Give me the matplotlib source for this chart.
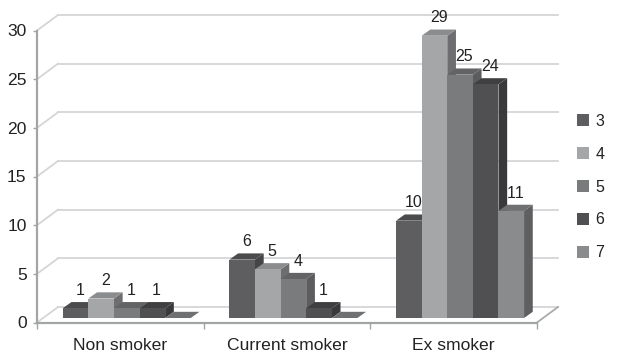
import matplotlib
matplotlib.use("Agg")
import matplotlib.pyplot as plt
from matplotlib.patches import Patch, Polygon

plt.rcParams["font.family"] = ["Liberation Sans", "DejaVu Sans"]
plt.rcParams["text.kerning_factor"] = 6

categories = ["Non smoker", "Current smoker", "Ex smoker"]
series_names = ["3", "4", "5", "6", "7"]
series_values = {
    "3": [1, 6, 10],
    "4": [2, 5, 29],
    "5": [1, 4, 25],
    "6": [1, 1, 24],
    "7": [0, 0, 11],
}
y_ticks = [0, 5, 10, 15, 20, 25, 30]

front_colors = ["#5e5e60", "#a5a6a8", "#7a7b7d", "#505052", "#8a8b8d"]
top_colors = ["#4b4b4d", "#8b8c8e", "#636365", "#3f3f41", "#6f7072"]
side_colors = ["#454547", "#6e6e70", "#5c5c5e", "#39393b", "#5f5f61"]

W, H = 618, 352
LEFT, RIGHT, BOTTOM, TOP = 37, 537, 322.5, 30.5

fig = plt.figure(figsize=(W / 100, H / 100), dpi=100, facecolor="white")
ax = fig.add_axes([LEFT / W, 1 - BOTTOM / H, (RIGHT - LEFT) / W, (BOTTOM - TOP) / H])
ax.set_xlim(-0.5, 2.5)
ax.set_ylim(0, 30)
ax.patch.set_visible(False)

# Pixel sizes converted to data units for the oblique projection
px_x = 3 / (RIGHT - LEFT)
px_y = 30 / (BOTTOM - TOP)
wall_dx, wall_dy = 21 * px_x, 15.5 * px_y
bar_lift = 4.5 * px_y
bar_w = 25.6 * px_x
depth_dx, depth_dy = 8.7 * px_x, 6.2 * px_y
group_w = bar_w * len(series_names)

# Back wall gridlines and their diagonals toward the value axis
grid_color = "#d4d5d7"
for t in y_ticks:
    ax.plot([-0.5 + wall_dx, 2.5 + wall_dx], [t + wall_dy, t + wall_dy],
            color=grid_color, lw=1.3, clip_on=False, zorder=1)
    ax.plot([-0.5, -0.5 + wall_dx], [t, t + wall_dy],
            color=grid_color, lw=1.3, clip_on=False, zorder=1)
ax.plot([2.5, 2.5 + wall_dx], [0, wall_dy], color="#a9aaac", lw=1.3, clip_on=False, zorder=1)

# Bars: side and top faces are added around each front face
for gi in range(len(categories)):
    left = gi - group_w / 2 + 6.4 * px_x
    for si, name in enumerate(series_names):
        v = series_values[name][gi]
        x0 = left + si * bar_w
        x1 = x0 + bar_w
        y0 = bar_lift
        y1 = v + bar_lift
        z = 3 + gi * 10 + si
        if v > 0:
            ax.add_patch(Polygon([(x1, y0), (x1 + depth_dx, y0 + depth_dy),
                                  (x1 + depth_dx, y1 + depth_dy), (x1, y1)],
                                 fc=side_colors[si], ec="none", clip_on=False, zorder=z))
        ax.add_patch(Polygon([(x0, y1), (x1, y1), (x1 + depth_dx, y1 + depth_dy),
                              (x0 + depth_dx, y1 + depth_dy)],
                             fc=top_colors[si], ec="none", clip_on=False, zorder=z))
        if v > 0:
            ax.bar(x0, v, width=bar_w, bottom=y0, align="edge", color=front_colors[si],
                   linewidth=0, clip_on=False, zorder=z + 0.5)
            ax.annotate(str(v), (x0 + bar_w / 2 + depth_dx / 2, y1 + depth_dy),
                        xytext=(0, 3), textcoords="offset points", ha="center", va="bottom",
                        fontsize=11.5, color="#222222", zorder=60, annotation_clip=False)

# Axes: category separators on the major ticks, names on the minor ticks
axis_color = "#a3a4a6"
for side in ("top", "right"):
    ax.spines[side].set_visible(False)
for side in ("left", "bottom"):
    ax.spines[side].set_color(axis_color)
    ax.spines[side].set_linewidth(1.6)
    ax.spines[side].set_zorder(2)
ax.set_yticks(y_ticks)
ax.set_xticks([-0.5, 0.5, 1.5, 2.5])
ax.set_xticklabels([])
ax.set_xticks([0, 1, 2], labels=categories, minor=True)
ax.tick_params(axis="x", which="major", length=4, width=1, color=axis_color)
ax.tick_params(axis="x", which="minor", length=0, pad=11, labelsize=12.6, labelcolor="#222222")
ax.tick_params(axis="y", length=3, width=1, color=axis_color, pad=4.5,
               labelsize=12.6, labelcolor="#222222")

handles = [Patch(facecolor=c, edgecolor="none", label=n) for c, n in zip(front_colors, series_names)]
ax.legend(handles=handles, loc="center left", frameon=False, fontsize=11.5,
          bbox_to_anchor=(577 / W, 1 - 187 / H), bbox_transform=fig.transFigure,
          handlelength=0.75, handleheight=0.75, handletextpad=0.4,
          labelspacing=1.12, borderpad=0, borderaxespad=0, labelcolor="#222222")

fig.savefig("out.png", dpi=100)
